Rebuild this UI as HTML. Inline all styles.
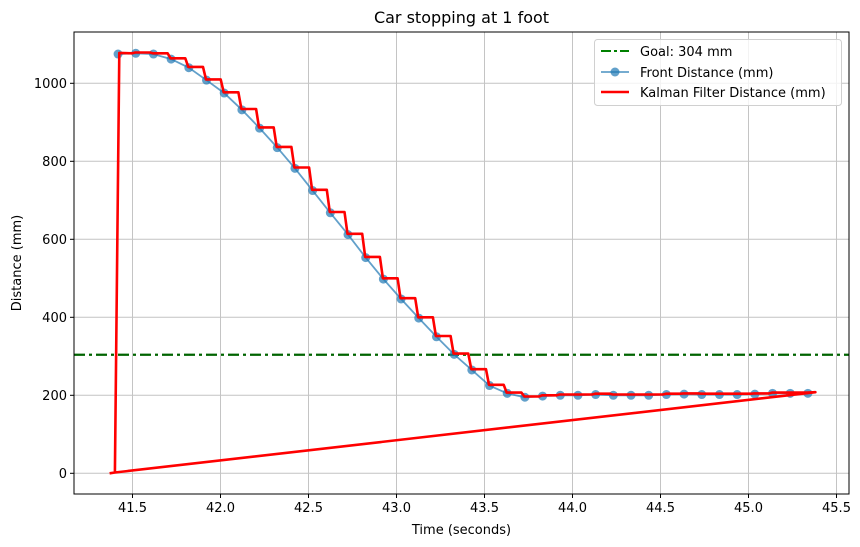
<!DOCTYPE html>
<html><head><meta charset="utf-8"><style>
body{margin:0;background:#fff}
svg{display:block;font-family:"DejaVu Sans","Liberation Sans",sans-serif}
</style></head><body>
<svg id="s" width="860" height="547" viewBox="0 0 860 547" xmlns="http://www.w3.org/2000/svg">
<rect width="860" height="547" fill="#fff"/>
<g id="grid" stroke="#c4c4c4" stroke-width="1"></g>
<g id="data"></g>
<rect x="74" y="32" width="775" height="462" fill="none" stroke="#000" stroke-width="1"/>
<g id="ticks" font-size="13" fill="#000"></g>
<text x="461.5" y="23" font-size="16" text-anchor="middle">Car stopping at 1 foot</text>
<text x="461.5" y="534" font-size="13" text-anchor="middle">Time (seconds)</text>
<text transform="translate(21,263) rotate(-90)" font-size="13" text-anchor="middle">Distance (mm)</text>
<g>
<rect x="594.5" y="39.5" width="247" height="66" rx="3" fill="#fff" fill-opacity="0.8" stroke="#d0d0d0"/>
<line x1="601" y1="51" x2="629" y2="51" stroke="#008000" stroke-width="2" stroke-dasharray="10,3,3,3"/>
<text x="640" y="56" font-size="13">Goal: 304 mm</text>
<line x1="601" y1="72" x2="629" y2="72" stroke="#1f77b4" stroke-opacity="0.7" stroke-width="1.8"/>
<circle cx="615" cy="72" r="4.5" fill="#1f77b4" fill-opacity="0.7"/>
<text x="640" y="77" font-size="13">Front Distance (mm)</text>
<line x1="601" y1="92" x2="629" y2="92" stroke="#ff0000" stroke-width="2.6"/>
<text x="640" y="97" font-size="13">Kalman Filter Distance (mm)</text>
</g>
</svg>
<script>
const X=t=>132.5+(t-41.5)*176, Y=v=>473.3-v*0.39;
const ns="http://www.w3.org/2000/svg";
function el(p,tag,a){const e=document.createElementNS(ns,tag);for(const k in a)e.setAttribute(k,a[k]);p.appendChild(e);return e;}
const g=document.getElementById('grid'),tk=document.getElementById('ticks'),d=document.getElementById('data');
for(let i=0;i<9;i++){const t=41.5+i*0.5,x=X(t);
 el(g,'line',{x1:x,y1:32,x2:x,y2:494});
 el(tk,'line',{x1:x,y1:494,x2:x,y2:498,stroke:'#000'});
 el(tk,'text',{x:x,y:512,'text-anchor':'middle'}).textContent=t.toFixed(1);}
for(let v=0;v<=1000;v+=200){const y=Y(v);
 el(g,'line',{x1:74,y1:y,x2:849,y2:y});
 el(tk,'line',{x1:70,y1:y,x2:74,y2:y,stroke:'#000'});
 el(tk,'text',{x:67,y:y+4.5,'text-anchor':'end'}).textContent=v;}
const vals=[1075,1077,1075,1062,1040,1008,975,932,885,835,782,725,668,612,553,498,447,398,350,305,265,225,205,195,198,200,200,202,200,200,200,202,203,202,202,202,203,205,205,205];
const T=i=>41.418+i*0.1005;
el(d,'line',{x1:74,y1:Y(304),x2:849,y2:Y(304),stroke:'#006400','stroke-width':2.2,'stroke-dasharray':'11,4,3,4'});
let p=vals.map((v,i)=>X(T(i)).toFixed(1)+','+Y(v).toFixed(1)).join(' ');
el(d,'polyline',{points:p,fill:'none',stroke:'#1f77b4','stroke-opacity':0.7,'stroke-width':1.8});
vals.forEach((v,i)=>el(d,'circle',{cx:X(T(i)),cy:Y(v),r:4.5,fill:'#1f77b4','fill-opacity':0.7}));
let r=[[41.37,0],[41.40,2],[41.425,1078]];
for(let i=0;i<vals.length-1;i++){r.push([T(i+1)-0.02,vals[i]+2]);r.push([T(i+1)-0.003,vals[i+1]+2]);}
r.push([45.38,208]);r.push([41.40,2]);
el(d,'polyline',{points:r.map(a=>X(a[0]).toFixed(1)+','+Y(a[1]).toFixed(1)).join(' '),fill:'none',stroke:'#ff0000','stroke-width':2.6,'stroke-linejoin':'round'});
</script>
</body></html>
